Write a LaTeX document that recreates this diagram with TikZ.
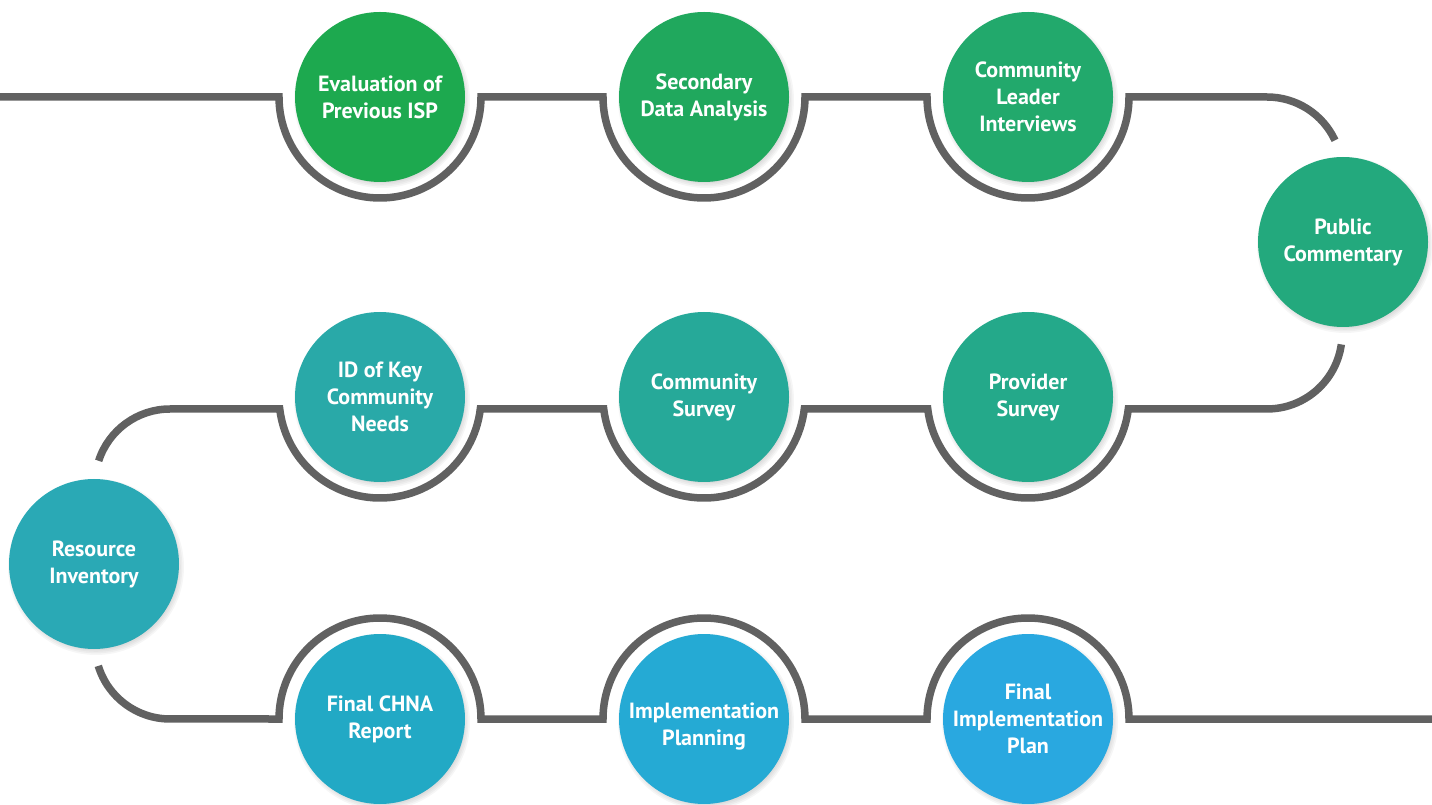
\documentclass[tikz,border=0pt]{standalone}
\usepackage{fontspec}
\setmainfont{PT Sans}
\usetikzlibrary{calc}
\definecolor{wavegray}{HTML}{616161}
\definecolor{ca}{HTML}{1DA94F}
\definecolor{cb}{HTML}{20A85D}
\definecolor{cc}{HTML}{22A96C}
\definecolor{cd}{HTML}{23A97D}
\definecolor{ce}{HTML}{24A98A}
\definecolor{cf}{HTML}{26A999}
\definecolor{cg}{HTML}{29A9A8}
\definecolor{ch}{HTML}{2AA9B5}
\definecolor{ci}{HTML}{22A9C5}
\definecolor{cj}{HTML}{25AAD4}
\definecolor{ck}{HTML}{29A8E0}
\tikzset{
  steptext/.style={text=white, align=center, font=\fontsize{22}{27}\selectfont\bfseries},
  stepcircle/.style={circle, minimum size=170pt, inner sep=0pt, steptext},
  wave/.style={draw=wavegray, line width=7.5pt},
}
\begin{document}
\begin{tikzpicture}[x=1pt,y=1pt]
\useasboundingbox (0,0) rectangle (1432,804);
% soft shadows
\foreach \cx/\cy in {380/707,704/707,1028/707,1343/562,1028/407,704/407,380/407,94/240,380/85,704/85,1028/85}{
  \foreach \k in {0,1,2,3,4,5}{
    \fill[black, opacity=0.035] (\cx+2,\cy-3) circle[radius=80+\k*1.6];
  }
}
\node[stepcircle, fill=ca] (n1) at (380,707) {Evaluation of\\Previous ISP};
\node[stepcircle, fill=cb] (n2) at (704,707) {Secondary\\Data Analysis};
\node[stepcircle, fill=cc] (n3) at (1028,707) {Community\\Leader\\Interviews};
\node[stepcircle, fill=cd] (n4) at (1343,562) {Public\\Commentary};
\node[stepcircle, fill=ce] (n5) at (1028,407) {Provider\\Survey};
\node[stepcircle, fill=cf] (n6) at (704,407) {Community\\Survey};
\node[stepcircle, fill=cg] (n7) at (380,407) {ID of Key\\Community\\Needs};
\node[stepcircle, fill=ch] (n8) at (94,240) {Resource\\Inventory};
\node[stepcircle, fill=ci] (n9) at (380,85) {Final CHNA\\Report};
\node[stepcircle, fill=cj,
  label={[steptext, yshift=-8pt]center:Implementation\\Planning}] (n10) at (704,85) {};
\node[stepcircle, fill=ck] (n11) at (1028,85) {Final\\Implementation\\Plan};
\coordinate (L1) at (0,707);
\coordinate (R3) at (1432,85);
% top row
\draw[wave] (L1) -- ($(n1.center)+(-101pt,0)$) arc[start angle=180,end angle=360,radius=101pt]
  -- ($(n2.center)+(-101pt,0)$) arc[start angle=180,end angle=360,radius=101pt]
  -- ($(n3.center)+(-101pt,0)$) arc[start angle=180,end angle=360,radius=101pt]
  -- ($(n4.center)+(-76pt,145pt)$) arc[start angle=90,end angle=25,radius=75pt];
% middle row
\draw[wave] ($(n4.center)+(-1.7pt,-102.4pt)$) arc[start angle=-8,end angle=-90,radius=75pt]
  -- ($(n5.center)+(100.3pt,-12pt)$) arc[start angle=-6.82,end angle=-173.18,radius=101pt]
  -- ($(n6.center)+(100.3pt,-12pt)$) arc[start angle=-6.82,end angle=-173.18,radius=101pt]
  -- ($(n7.center)+(100.3pt,-12pt)$) arc[start angle=-6.82,end angle=-173.18,radius=101pt]
  -- ($(n8.center)+(76pt,155pt)$) arc[start angle=90,end angle=162,radius=75pt];
% bottom row
\draw[wave] ($(n8.center)+(4.3pt,-101.9pt)$) arc[start angle=197,end angle=270,radius=75pt]
  -- ($(n9.center)+(-101pt,0)$) arc[start angle=180,end angle=0,radius=101pt]
  -- ($(n10.center)+(-101pt,0)$) arc[start angle=180,end angle=0,radius=101pt]
  -- ($(n11.center)+(-101pt,0)$) arc[start angle=180,end angle=0,radius=101pt]
  -- (R3);
\end{tikzpicture}
\end{document}
